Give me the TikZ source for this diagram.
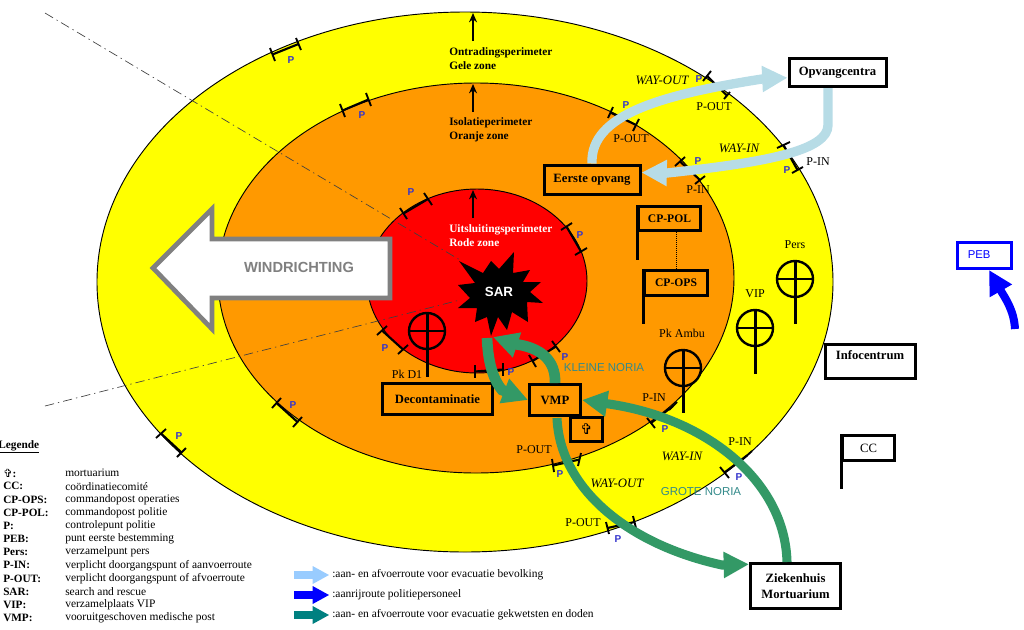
\documentclass[tikz,border=0pt]{standalone}
\usepackage{fontspec}
\setmainfont{Liberation Serif}
\setsansfont{Liberation Sans}
\newfontfamily\crossfont{DejaVu Sans}
\usetikzlibrary{arrows.meta,calc}
\definecolor{zoneyellow}{HTML}{FFFF00}
\definecolor{zoneorange}{HTML}{FF9900}
\definecolor{zonered}{HTML}{FF0000}
\definecolor{noriagreen}{HTML}{339966}
\definecolor{noriatext}{HTML}{338A8A}
\definecolor{evacblue}{HTML}{B7DCE6}
\definecolor{gateblue}{HTML}{3333CC}
\definecolor{legendlight}{HTML}{99CCFF}
\definecolor{legendteal}{HTML}{008080}
\tikzset{
  boxsize/.style 2 args={minimum width=#1*0.75pt, minimum height=#2*0.75pt},
  postbox/.style={draw, line width=2.25pt, inner sep=0pt, align=center, font=\fontsize{9.5}{12}\selectfont\bfseries},
  flagbox/.style={postbox, font=\fontsize{8.7}{11}\selectfont\bfseries},
  gateline/.style={line width=1.6pt},
  ticks/.style={line width=1.4pt},
  perimeter/.style={inner sep=0pt, anchor=west, align=left, font=\fontsize{8.5}{10.5}\selectfont\bfseries},
  perimarrow/.style={-{Stealth[length=7pt,width=6pt]}, line width=1.2pt},
  sector/.style={line width=0.5pt, dash pattern=on 7pt off 3pt on 1pt off 3pt, black!75},
  lbl/.style={inner sep=0pt, font=\fontsize{9}{11}\selectfont},
  way/.style={inner sep=0pt, font=\fontsize{9.6}{11}\selectfont\itshape},
  pmark/.style={inner sep=0pt, text=gateblue, font=\fontsize{7.5}{9}\sffamily\selectfont\bfseries},
  noria/.style={line width=6.8pt, noriagreen, -{Triangle[width=18.5pt,length=19pt]}},
  kleinenoria/.style={noria, line width=8pt},
  evac/.style={line width=7pt, evacblue, -{Triangle[width=18.5pt,length=19pt]}},
  zoneline/.style={draw=black, line width=0.7pt},
  legendarrow/.style={line width=5.5pt, shorten >=2pt, -{Triangle[width=12.5pt,length=12.5pt]}},
  legendtext/.style={inner sep=0pt, anchor=west, font=\fontsize{8.6}{10}\selectfont},
  legendname/.style={inner sep=0pt, anchor=west, font=\fontsize{8.4}{10}\selectfont\bfseries},
  meetpoint/.style={circle, draw, line width=1.8pt, minimum size=27pt, inner sep=0pt},
  norialabel/.style={inner sep=0pt, text=noriatext, font=\fontsize{8.6}{10}\sffamily\selectfont},
}
% meeting point: circle with cross and pole, arguments name, x, y, end of the pole
\newcommand{\meetpoint}[4]{
  \node[meetpoint] (#1) at (#2,#3) {};
  \draw[line width=1.8pt] (#1.west) -- (#1.east);
  \draw[line width=2.25pt] (#1.north) -- (#2,#4);
}
% flag post: the pole hangs below the left side of the box
\newcommand{\flagpole}[2]{
  \draw[line width=2.25pt] (#1.north west) -- (#1.west |- 0,#2);
}
\begin{document}
\begin{tikzpicture}[x=0.75pt,y=-0.75pt]
  \useasboundingbox (0,0) rectangle (1024,629);

  % the three zones
  \filldraw[fill=zoneyellow, zoneline] (465,282) ellipse (368 and 270);
  \filldraw[fill=zoneorange, zoneline] (476,278) ellipse (258 and 195);
  \filldraw[fill=zonered, zoneline] (477,281) ellipse (110 and 92);

  % wind sector
  \draw[sector] (45,13) -- (460,260);
  \draw[sector] (45,406) -- (460,300);

  % perimeter labels and their arrows
  \node[perimeter] (geel) at (449,59) {Ontradingsperimeter\\Gele zone};
  \node[perimeter] (oranje) at (449,130) {Isolatieperimeter\\Oranje zone};
  \node[perimeter, text=white] (rood) at (449,236) {Uitsluitingsperimeter\\Rode zone};
  \draw[perimarrow] (473,41) -- (473,13);
  \draw[perimarrow] (473,112) -- (473,84);
  \draw[perimarrow] (473,218) -- (473,190);

  % wind arrow
  \draw[line width=3.5pt, draw=black!50, fill=white, line join=miter]
    (153,268) -- (212,209) -- (212,239) -- (390,239) -- (390,298) -- (212,298) -- (212,329) -- cycle;
  \node[inner sep=0pt, text=black!50, font=\fontsize{11}{13}\sffamily\selectfont\bfseries] (wind) at (299,267) {WINDRICHTING};

  % control points: both ticks, the line runs between their middles
  \foreach \ax/\ay/\bx/\by/\cx/\cy/\dx/\dy in {
      270/48/275/61/296/38/301/50, 340/104/345/117/366/93/371/106,
      400/208/407/219/424/193/432/205, 561/230/572/223/575/255/587/248,
      377/335/387/326/398/354/408/345, 475/365/475/378/503/363/503/376,
      529/355/536/367/552/341/560/352, 669/410/677/402/647/418/655/428,
      742/460/752/451/720/467/729/478, 552/459/554/472/581/453/578/466,
      606/522/609/534/633/516/636/528, 703/81/711/71/724/99/730/92,
      608/118/613/107/633/131/639/119, 675/166/685/157/695/184/705/176,
      777/148/790/142/792/173/803/167, 156/438/166/429/177/457/186/448,
      272/408/281/398/293/427/302/417} {
    \draw[ticks] (\ax,\ay) -- (\bx,\by);
    \draw[ticks] (\cx,\cy) -- (\dx,\dy);
    \draw[gateline] ($(\ax,\ay)!.5!(\bx,\by)$) -- ($(\cx,\cy)!.5!(\dx,\dy)$);
  }
  \foreach \i/\px/\py in {1/291/60, 2/362/115, 3/411/192, 4/580/235, 5/385/348, 6/511/372,
      7/565/357, 8/665/429, 9/739/477, 10/560/474, 11/618/539, 12/179/436, 13/293/405,
      14/626/105, 15/699/79, 16/698/161, 17/787/170} {
    \node[pmark] (p\i) at (\px,\py) {P};
  }

  % star of the incident site
  \fill[black] (459,261) -- (483,273) -- (491,261) -- (499,269) -- (514,252) -- (513,273)
    -- (530,270) -- (523,282) -- (541,282) -- (530,292) -- (543,303) -- (527,302)
    -- (528,322) -- (512,312) -- (507,330) -- (498,317) -- (491,336) -- (487,317)
    -- (475,322) -- (477,308) -- (458,308) -- (470,298) -- (458,285) -- (475,283) -- cycle;
  \node[inner sep=0pt, text=white, font=\fontsize{10}{12}\sffamily\selectfont\bfseries] (sar) at (499,292) {SAR};
  \coordinate (sartip) at (493,337);
  \coordinate (sarfoot) at (487,338);

  % posts
  \node[postbox, boxsize={97}{28}] (opvangcentra) at (837.5,72.5) {Opvangcentra};
  \node[postbox, boxsize={96}{29}] (eerste) at (592,179.5) {Eerste opvang};
  \node[postbox, boxsize={110}{31}] (decon) at (437.5,399) {Decontaminatie};
  \node[postbox, boxsize={51}{31}] (vmp) at (555,400) {VMP};
  \node[postbox, boxsize={32}{24}, font=\fontsize{11}{12}\selectfont\bfseries] (mortuarium) at (586.5,429.5) {\crossfont ✞};
  \node[postbox, boxsize={90}{34}, text depth=10pt] (infocentrum) at (870,361.5) {Infocentrum};
  \node[postbox, boxsize={90}{45}] (ziekenhuis) at (795.5,586) {Ziekenhuis\\Mortuarium};
  \node[flagbox, boxsize={62}{24}] (cppol) at (669.5,218.5) {CP-POL};
  \node[flagbox, boxsize={63}{25}] (cpops) at (676,283) {CP-OPS};
  \node[postbox, boxsize={52}{25}, font=\fontsize{9.5}{12}\selectfont] (cc) at (868.5,448) {CC};
  \flagpole{cppol}{260}
  \flagpole{cpops}{324}
  \flagpole{cc}{489}
  \draw[line width=0.5pt, densely dotted] (cppol.south -| cpops.north) -- (cpops.north);
  \node[draw=blue, line width=2.25pt, boxsize={54}{26}, inner sep=0pt, text=blue, font=\fontsize{8.5}{10}\sffamily\selectfont] (peb) at (984.5,255.5) {\raisebox{1.5pt}{PEB}\kern 8pt};

  % meeting points
  \meetpoint{pkdone}{427}{331}{377}
  \meetpoint{pkambu}{683}{368}{413}
  \meetpoint{vip}{755}{328}{374}
  \meetpoint{pers}{795}{279}{324}
  \node[lbl] (pkdlabel) at (407,374) {Pk D1};
  \node[lbl] (pkambulabel) at (682,333) {Pk Ambu};
  \node[lbl] (viplabel) at (755,294) {VIP};
  \node[lbl] (perslabel) at (795,245) {Pers};

  % evacuation of the population
  \draw[evac] (eerste.north) .. controls (590,115) and (660,95) .. (762,79) -- (opvangcentra.186);
  \draw[evac] (opvangcentra.south -| 828,0) -- (828,125) .. controls (828,150) and (770,162) .. (667,173) -- (eerste.8);

  % noria routes
  \draw[noria] (ziekenhuis.north -| 787,0) .. controls (785,480) and (705,418) .. (609,404) -- (vmp.east);
  \draw[noria] (557,418) .. controls (560,490) and (630,545) .. (722,565) -- (ziekenhuis.155);
  \draw[kleinenoria] (vmp.north) .. controls (556,360) and (540,347) .. (514,344) -- (sartip);
  \draw[kleinenoria] (sarfoot) .. controls (488,360) and (492,378) .. (502,390) -- (vmp.west);

  % police arrival
  \draw[line width=6pt, blue, -{Triangle[width=18pt,length=18pt]}] (1015,329) .. controls (1014,310) and (1005,298) .. (peb.south -| 989,0);

  % labels along the routes
  \node[way] (wayouta) at (662,80) {WAY-OUT};
  \node[way] (wayina) at (739,148) {WAY-IN};
  \node[way] (wayinb) at (682,456) {WAY-IN};
  \node[way] (wayoutb) at (617,483) {WAY-OUT};
  \node[lbl] (poutb) at (714,107) {P-OUT};
  \node[lbl] (poutc) at (631,139) {P-OUT};
  \node[lbl] (pina) at (818,162) {P-IN};
  \node[lbl] (pinb) at (698,190) {P-IN};
  \node[lbl] (pinc) at (654,398) {P-IN};
  \node[lbl] (pind) at (740,442) {P-IN};
  \node[lbl] (poutd) at (534,450) {P-OUT};
  \node[lbl] (poute) at (583,523) {P-OUT};
  \node[norialabel] (kleine) at (604,368) {KLEINE NORIA};
  \node[norialabel] (grote) at (701,492) {GROTE NORIA};

  % legend
  \node[legendname, font=\fontsize{8.5}{10}\selectfont\bfseries] (legende) at (-2,447) {\underline{Legende}};
  \foreach \i/\legname/\legtext in {
      0/{{\crossfont ✞}:}/mortuarium, 1/CC:/coördinatiecomité, 2/CP-OPS:/commandopost operaties,
      3/CP-POL:/commandopost politie, 4/P:/controlepunt politie, 5/PEB:/punt eerste bestemming,
      6/Pers:/verzamelpunt pers, 7/P-IN:/verplicht doorgangspunt of aanvoerroute,
      8/P-OUT:/verplicht doorgangspunt of afvoerroute, 9/SAR:/search and rescue,
      10/VIP:/verzamelplaats VIP, 11/VMP:/vooruitgeschoven medische post} {
    \node[legendname] (name\i) at (3,473+13.2*\i) {\legname};
    \node[legendtext] (text\i) at (65,473+13.2*\i) {\legtext};
  }
  \node[legendtext] (texta) at (332,575) {:aan- en afvoerroute voor evacuatie bevolking};
  \node[legendtext] (textb) at (332,595) {:aanrijroute politiepersoneel};
  \node[legendtext] (textc) at (332,615) {:aan- en afvoerroute voor evacuatie gekwetsten en doden};
  \draw[legendarrow, legendlight] (294,575) -- (texta.west);
  \draw[legendarrow, blue] (294,595) -- (textb.west);
  \draw[legendarrow, legendteal] (294,615) -- (textc.west);
\end{tikzpicture}
\end{document}
